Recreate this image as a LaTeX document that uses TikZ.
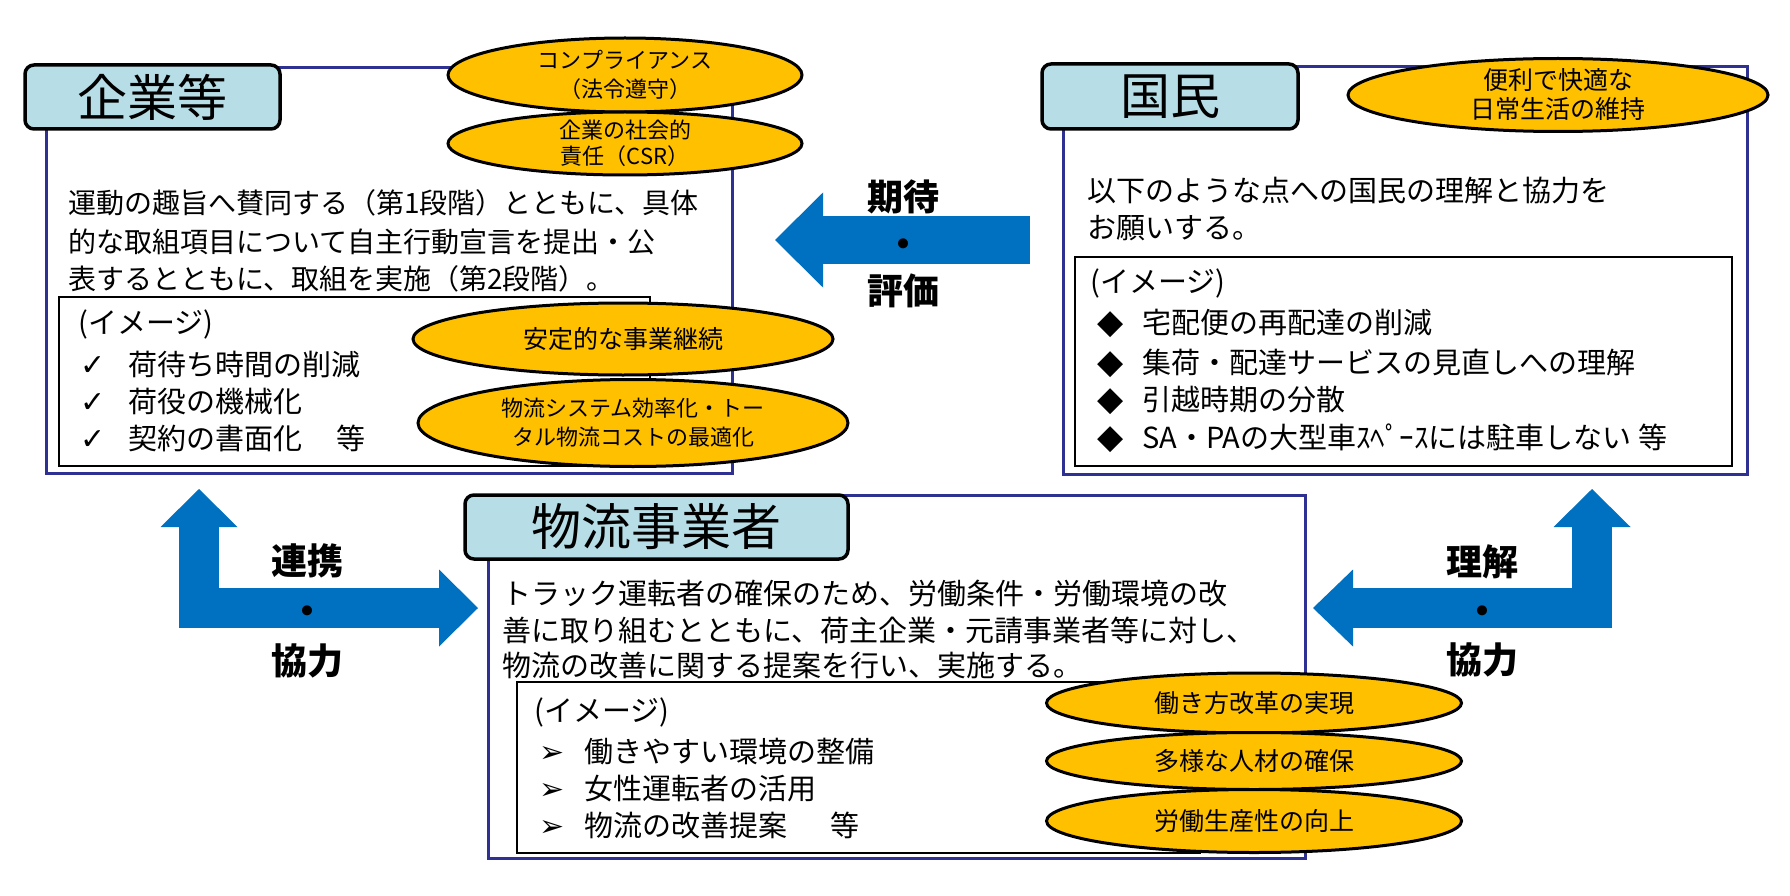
\documentclass[tikz,border=0pt]{standalone}
\usepackage{fontspec}
\setmainfont{Noto Sans CJK JP}
\newfontfamily\symfont{DejaVu Sans}
\usetikzlibrary{shapes.geometric,arrows.meta}
\definecolor{boxnavy}{RGB}{46,49,146}
\definecolor{tagcyan}{RGB}{183,222,230}
\definecolor{ovalgold}{RGB}{255,192,0}
\definecolor{arrowblue}{RGB}{0,112,192}

\begin{document}
\begin{tikzpicture}[x=1pt,y=-1pt]
\tikzstyle{mainbox}=[draw=boxnavy,line width=3pt,fill=white,inner sep=0pt]
\tikzstyle{listbox}=[draw=black,line width=1.8pt,fill=white,inner sep=0pt]
\tikzstyle{tagbox}=[draw=black,line width=3.5pt,fill=tagcyan,rounded corners=9pt,inner sep=0pt,font=\fontsize{50}{50}\selectfont]
\tikzstyle{ovalnode}=[ellipse,draw=black,line width=3pt,fill=ovalgold,inner sep=0pt]
\tikzstyle{ovaltext}=[align=center,inner sep=0pt,font=\fontsize{25}{29}\selectfont]
\tikzstyle{txt}=[anchor=west,inner sep=0pt,font=\fontsize{29}{29}\selectfont]
\tikzstyle{dirtxt}=[align=center,inner sep=0pt,font=\fontsize{36}{47}\selectfont\bfseries]
\tikzstyle{flow}=[draw=arrowblue,line join=miter]
\newcommand{\chk}{\makebox[48pt][l]{\smash{\fontsize{30}{30}\selectfont\symfont ✓}}}
\newcommand{\dia}{\makebox[45pt][l]{\smash{\fontsize{34}{34}\selectfont\symfont ◆}}}
\newcommand{\pnt}{\makebox[45pt][l]{\smash{\fontsize{30}{30}\selectfont\symfont ➢}}}

\useasboundingbox (0,0) rectangle (1790,896);

\node [mainbox,minimum width=686pt,minimum height=405pt] (kigyo) at (389,270.5) {};
\node [mainbox,minimum width=684pt,minimum height=407pt] (kokumin) at (1405,270.5) {};
\node [mainbox,minimum width=817pt,minimum height=363pt] (butsuryu) at (896.5,676.5) {};

\node [listbox,minimum width=591pt,minimum height=169pt] (kigyolist) at (354.5,381.5) {};
\node [listbox,minimum width=657pt,minimum height=209pt] (kokuminlist) at (1403.5,361.5) {};
\node [listbox,minimum width=683pt,minimum height=171pt] (butsuryulist) at (858.5,767.5) {};

\node [tagbox,minimum width=255pt,minimum height=64pt] (kigyotag) at (152.5,97) {企業等};
\node [tagbox,minimum width=256pt,minimum height=65pt] (kokumintag) at (1170,96.5) {国民};
\node [tagbox,minimum width=383pt,minimum height=64pt] (butsuryutag) at (656.5,527) {物流事業者};

\node [txt,font=\fontsize{28}{28}\selectfont] (k1) at (68,203) {運動の趣旨へ賛同する（第1段階）とともに、具体};
\node [txt,font=\fontsize{28}{28}\selectfont] (k2) at (68,242) {的な取組項目について自主行動宣言を提出・公};
\node [txt,font=\fontsize{28}{28}\selectfont] (k3) at (68,279) {表するとともに、取組を実施（第2段階）。};
\node [txt] (k4) at (78,324) {(イメージ)};
\node [txt] (k5) at (80,364) {\chk 荷待ち時間の削減};
\node [txt] (k6) at (80,402) {\chk 荷役の機械化};
\node [txt] (k7) at (80,438) {\chk 契約の書面化\hspace{1.2em}等};

\node [txt] (m1) at (1087,191) {以下のような点への国民の理解と協力を};
\node [txt] (m2) at (1087,228) {お願いする。};
\node [txt] (m3) at (1090,283) {(イメージ)};
\node [txt] (m4) at (1097,323) {\dia 宅配便の再配達の削減};
\node [txt] (m5) at (1097,362) {\dia 集荷・配達サービスの見直しへの理解};
\node [txt] (m6) at (1097,400) {\dia 引越時期の分散};
\node [txt] (m7) at (1097,437) {\dia SA・PAの大型車ｽﾍﾟｰｽには駐車しない 等};

\node [txt] (b1) at (502,594) {トラック運転者の確保のため、労働条件・労働環境の改};
\node [txt] (b2) at (502,630) {善に取り組むとともに、荷主企業・元請事業者等に対し、};
\node [txt] (b3) at (502,666) {物流の改善に関する提案を行い、実施する。};
\node [txt] (b4) at (534,712) {(イメージ)};
\node [txt] (b5) at (539,752) {\pnt 働きやすい環境の整備};
\node [txt] (b6) at (539,789) {\pnt 女性運転者の活用};
\node [txt] (b7) at (539,825) {\pnt 物流の改善提案\hspace{1.5em}等};

\node [ovalnode,minimum width=354pt,minimum height=74pt,label={[ovaltext,font=\fontsize{22}{29}\selectfont]center:{コンプライアンス\\（法令遵守）}}] (e1) at (625,75) {};
\node [ovalnode,minimum width=354pt,minimum height=63pt,label={[ovaltext,font=\fontsize{22}{26}\selectfont]center:{企業の社会的\\責任（CSR）}}] (e2) at (625,143.5) {};
\node [ovalnode,minimum width=420pt,minimum height=72pt,label={[ovaltext]center:安定的な事業継続}] (e3) at (623,339) {};
\node [ovalnode,minimum width=430pt,minimum height=87pt,label={[ovaltext,font=\fontsize{22}{29}\selectfont]center:{物流システム効率化・トー\\タル物流コストの最適化}}] (e4) at (633,423) {};
\node [ovalnode,minimum width=420pt,minimum height=73pt,label={[ovaltext]center:{便利で快適な\\日常生活の維持}}] (e5) at (1558,95) {};
\node [ovalnode,minimum width=415pt,minimum height=60pt,label={[ovaltext]center:働き方改革の実現}] (e6) at (1254,703) {};
\node [ovalnode,minimum width=415pt,minimum height=57pt,label={[ovaltext]center:多様な人材の確保}] (e7) at (1254,761) {};
\node [ovalnode,minimum width=415pt,minimum height=63pt,label={[ovaltext]center:労働生産性の向上}] (e8) at (1254,821) {};

\coordinate (kitaiS) at (1030,240);
\coordinate (kitaiE) at (775,240);
\coordinate (renkeiTop) at (199,489);
\coordinate (renkeiTip) at (478,608);
\coordinate (rikaiTop) at (1592,489);
\coordinate (rikaiTip) at (1313,608);

\draw [flow,line width=48pt,-{Triangle[length=48pt,width=95pt,line width=0pt]}] (kitaiS) -- (kitaiE);
\draw [flow,line width=40pt,{Triangle[length=38pt,width=77pt,line width=0pt]}-{Triangle[length=39pt,width=77pt,line width=0pt]}] (renkeiTop) |- (renkeiTip);
\draw [flow,line width=40pt,{Triangle[length=38pt,width=77pt,line width=0pt]}-{Triangle[length=40pt,width=77pt,line width=0pt]}] (rikaiTop) |- (rikaiTip);

\node [dirtxt] (kitai) at (903,244) {期待\\・\\評価};
\node [dirtxt,font=\fontsize{36}{50}\selectfont\bfseries] (renkei) at (307,611) {連携\\・\\協力};
\node [dirtxt,font=\fontsize{36}{49}\selectfont\bfseries] (rikai) at (1482,611) {理解\\・\\協力};
\end{tikzpicture}
\end{document}
